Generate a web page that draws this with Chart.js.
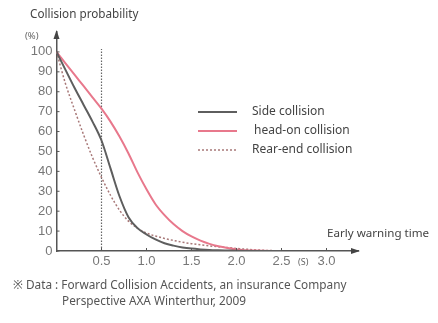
<!DOCTYPE html>
<html><head><meta charset="utf-8">
<script src="https://cdn.jsdelivr.net/npm/chart.js@4"></script>
<style>
html,body{margin:0;padding:0;background:#fff;}
#wrap{position:relative;width:438px;height:323px;overflow:hidden;background:#fff;}
canvas{position:absolute;left:0;top:0;}
.t{position:absolute;font-family:"Noto Sans",sans-serif;color:#444;white-space:nowrap;line-height:1;}
</style></head><body>
<div id="wrap">
<canvas id="c" width="438" height="323"></canvas>
<div class="t" style="left:30px;top:8px;font-size:11.7px;">Collision probability</div>
<div class="t" style="left:25px;top:31px;font-size:9.5px;color:#666;">(%)</div>
<div class="t" style="left:327px;top:227px;font-size:11.6px;">Early warning time</div>
<div class="t" style="left:298px;top:257px;font-size:9px;color:#666;">(S)</div>
<div class="t" style="left:13px;top:279px;font-size:11.8px;color:#555;">※ Data : Forward Collision Accidents, an insurance Company</div>
<div class="t" style="left:62px;top:295px;font-size:11.8px;color:#555;">Perspective AXA Winterthur, 2009</div>
</div>
<script>
const seriesNames = ["Side collision", "head-on collision", "Rear-end collision"];
const xs      = [0,0.1,0.2,0.3,0.4,0.5,0.6,0.7,0.8,0.9,1.0,1.1,1.2,1.3,1.4,1.5,1.6,1.7,1.8,1.9,2.0,2.2,2.5];
const side    = [100,91,82,73.5,65,55.5,41.5,27.5,17,11.5,8.3,5.8,3.9,2.7,1.8,1.2,0.8,0.5,0.35,0.25,0.15,0.05,0];
const headOn  = [100,94.3,88.6,82.9,77.2,71.5,65,57.5,49,39.5,31,23.5,18,13.5,10,7.3,5.2,3.6,2.4,1.5,0.8,0.2,0];
const rearEnd = [100,84,71,58.5,47,37,28,20.5,15,11.5,9,7.5,6.3,5.3,4.4,3.7,3.1,2.6,2.1,1.7,1.3,0.6,0];
const markerX = [0.5, 0.5];
const markerY = [0, 101.5];
const xTicks = [0.5,1.0,1.5,2.0,2.5,3.0];
const yTicks = [0,10,20,30,40,50,60,70,80,90,100];

const pts = (xa, ya) => xa.map((x, i) => ({x: x, y: ya[i]}));
const colors = ['#5e5e5e', '#e8788c', '#a87878'];

const decor = {
  id: 'decor',
  afterDraw(chart) {
    const ctx = chart.ctx, xs_ = chart.scales.x, ys_ = chart.scales.y;
    const x0 = xs_.getPixelForValue(0), y0 = ys_.getPixelForValue(0);
    ctx.save();
    ctx.strokeStyle = '#555'; ctx.fillStyle = '#444'; ctx.lineWidth = 1;
    yTicks.forEach(v => { const y = ys_.getPixelForValue(v); ctx.beginPath(); ctx.moveTo(x0, y); ctx.lineTo(x0 + 3, y); ctx.stroke(); });
    xTicks.forEach(v => { const x = xs_.getPixelForValue(v); ctx.beginPath(); ctx.moveTo(x, y0); ctx.lineTo(x, y0 - 3); ctx.stroke(); });
    const top = chart.chartArea.top, right = chart.chartArea.right;
    ctx.beginPath(); ctx.moveTo(x0, top - 2); ctx.lineTo(x0 - 3, top + 7); ctx.lineTo(x0 + 3, top + 7); ctx.closePath(); ctx.fill();
    ctx.beginPath(); ctx.moveTo(right + 2, y0); ctx.lineTo(right - 7, y0 - 3); ctx.lineTo(right - 7, y0 + 3); ctx.closePath(); ctx.fill();
    const ly = [112, 131, 150];
    ctx.font = '12px "Noto Sans", sans-serif'; ctx.textBaseline = 'middle';
    seriesNames.forEach((n, i) => {
      ctx.strokeStyle = colors[i]; ctx.lineWidth = i === 2 ? 1.5 : 2;
      ctx.setLineDash(i === 2 ? [2, 2] : []);
      ctx.beginPath(); ctx.moveTo(198, ly[i]); ctx.lineTo(237, ly[i]); ctx.stroke();
      ctx.setLineDash([]);
      ctx.fillStyle = '#444';
      ctx.fillText(n, i === 1 ? 254 : 252, ly[i]);
    });
    ctx.restore();
  }
};

new Chart(document.getElementById('c'), {
  type: 'line',
  data: {
    datasets: [
      {label: seriesNames[0], data: pts(xs, side), borderColor: colors[0], borderWidth: 2, pointRadius: 0, cubicInterpolationMode: 'monotone', fill: false},
      {label: seriesNames[1], data: pts(xs, headOn), borderColor: colors[1], borderWidth: 2, pointRadius: 0, cubicInterpolationMode: 'monotone', fill: false},
      {label: seriesNames[2], data: pts(xs, rearEnd), borderColor: colors[2], borderWidth: 1.5, borderDash: [2, 2], pointRadius: 0, cubicInterpolationMode: 'monotone', fill: false},
      {label: 'marker', data: pts(markerX, markerY), borderColor: '#666', borderWidth: 1.2, borderDash: [1.5, 1.5], pointRadius: 0, fill: false}
    ]
  },
  options: {
    responsive: false, animation: false, devicePixelRatio: 1,
    layout: {padding: {left: 0, top: 32, right: 80, bottom: 0}},
    plugins: {legend: {display: false}, tooltip: {enabled: false}},
    scales: {
      x: {
        type: 'linear', min: 0, max: 3.35,
        afterBuildTicks: s => { s.ticks = xTicks.map(v => ({value: v})); },
        afterFit: s => { s.height = 72; },
        ticks: {callback: v => v.toFixed(1), color: '#777', padding: 3, font: {family: '"Liberation Sans", Arial, sans-serif', size: 13}, maxRotation: 0, autoSkip: false},
        grid: {drawOnChartArea: false, drawTicks: false},
        border: {color: '#555', width: 1.5}
      },
      y: {
        type: 'linear', min: 0, max: 110,
        afterBuildTicks: s => { s.ticks = yTicks.map(v => ({value: v})); },
        afterFit: s => { s.width = 56.5; },
        ticks: {color: '#777', padding: 4, font: {family: '"Liberation Sans", Arial, sans-serif', size: 13}, autoSkip: false},
        grid: {drawOnChartArea: false, drawTicks: false},
        border: {color: '#555', width: 1.5}
      }
    }
  },
  plugins: [decor]
});
</script>
</body></html>
